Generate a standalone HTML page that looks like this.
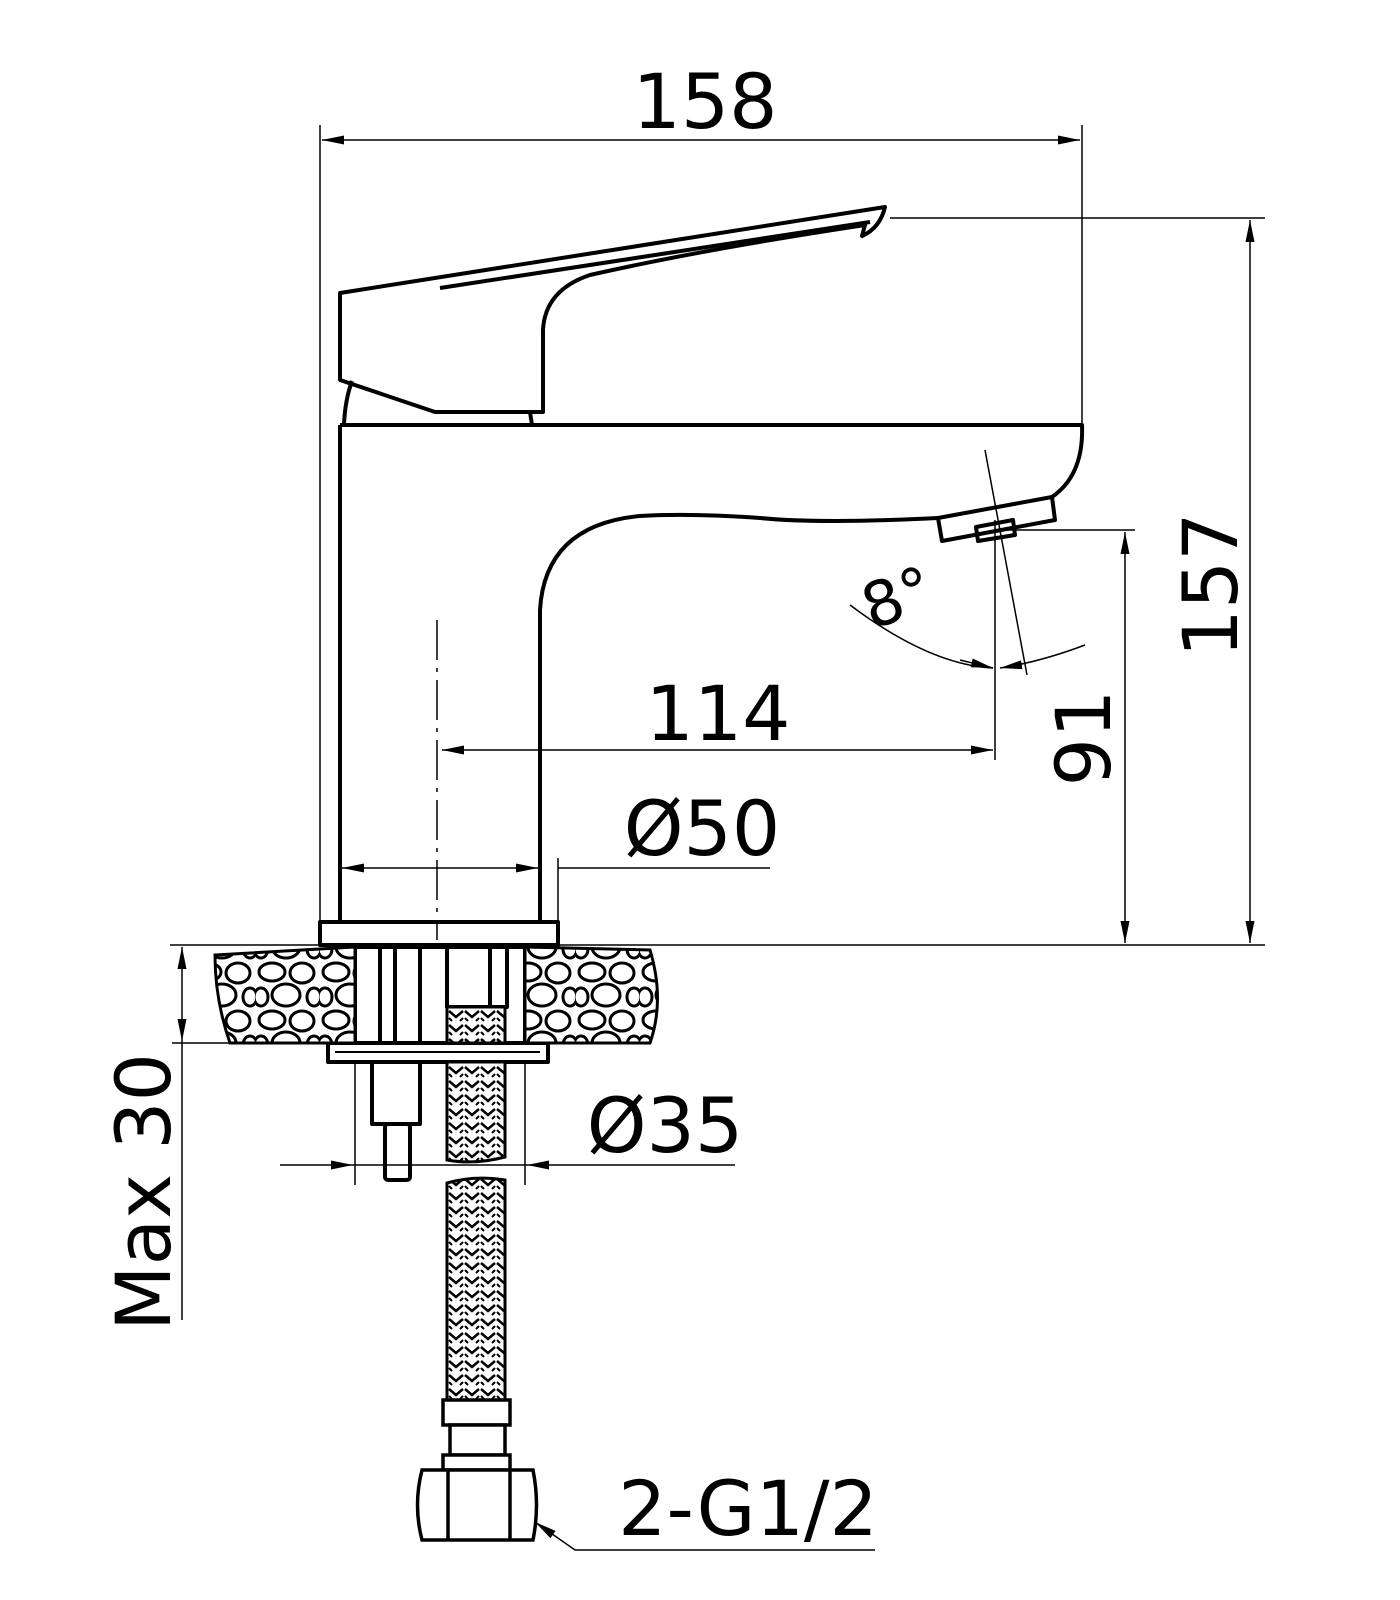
<!DOCTYPE html>
<html><head><meta charset="utf-8"><style>html,body{margin:0;padding:0;background:#fff}svg{display:block}</style></head><body>
<svg width="1400" height="1600" viewBox="0 0 1400 1600" xmlns="http://www.w3.org/2000/svg">
<defs>
<marker id="a" viewBox="0 0 22 10" refX="22" refY="5" markerWidth="22" markerHeight="10" markerUnits="userSpaceOnUse" orient="auto-start-reverse"><path d="M0,0.5 L22,5 L0,9.5 z" fill="#000"/></marker>
<pattern id="braid" width="16" height="14" patternUnits="userSpaceOnUse"><rect width="16" height="14" fill="#fff"/><path d="M1,3 L8,9 L15,3" stroke="#000" stroke-width="2.5" fill="none"/><path d="M1,10 L4,13 M15,10 L12,13" stroke="#000" stroke-width="2" fill="none"/></pattern>
<pattern id="stone" width="64" height="48" patternUnits="userSpaceOnUse"><rect width="64" height="48" fill="#fff"/><g fill="none" stroke="#000" stroke-width="3"><ellipse cx="16" cy="12" rx="13" ry="9"/><ellipse cx="46" cy="13" rx="12" ry="10"/><ellipse cx="30" cy="35" rx="14" ry="11"/><ellipse cx="5" cy="37" rx="7" ry="9"/><ellipse cx="58" cy="37" rx="7" ry="9"/></g></pattern>
</defs>
<g fill="none" stroke="#000" stroke-width="1.5">
<line x1="320" y1="125" x2="320" y2="940"/>
<line x1="1082" y1="125" x2="1082" y2="425"/>
<line x1="322" y1="140" x2="1080" y2="140" marker-start="url(#a)" marker-end="url(#a)"/>
<line x1="890" y1="218" x2="1265" y2="218"/>
<line x1="1250" y1="220" x2="1250" y2="943" marker-start="url(#a)" marker-end="url(#a)"/>
<line x1="1000" y1="530" x2="1135" y2="530"/>
<line x1="1125" y1="532" x2="1125" y2="943" marker-start="url(#a)" marker-end="url(#a)"/>
<line x1="995" y1="520" x2="995" y2="760"/>
<line x1="442" y1="750" x2="993" y2="750" marker-start="url(#a)" marker-end="url(#a)"/>
<line x1="985" y1="450" x2="1027" y2="675"/>
<path d="M850,605 Q930,665 993,668"/>
<path d="M1000,668 Q1040,662 1085,645" marker-start="url(#a)"/>
<path d="M960,660 L993,668" marker-end="url(#a)"/>
<line x1="558" y1="858" x2="558" y2="922"/>
<line x1="342" y1="868" x2="538" y2="868" marker-start="url(#a)" marker-end="url(#a)"/>
<line x1="558" y1="868" x2="770" y2="868"/>
<line x1="437" y1="620" x2="437" y2="940" stroke-dasharray="40,8,4,8"/>
<line x1="170" y1="945" x2="1265" y2="945"/>
<line x1="172" y1="1043" x2="355" y2="1043"/>
<line x1="182" y1="947" x2="182" y2="1041" marker-start="url(#a)" marker-end="url(#a)"/>
<line x1="182" y1="1041" x2="182" y2="1320"/>
<line x1="355" y1="1043" x2="355" y2="1185"/>
<line x1="525" y1="1043" x2="525" y2="1185"/>
<line x1="280" y1="1165" x2="353" y2="1165" marker-end="url(#a)"/>
<line x1="735" y1="1165" x2="527" y2="1165" marker-end="url(#a)"/>
<line x1="353" y1="1165" x2="527" y2="1165"/>
<path d="M875,1550 L575,1550 L535,1522" marker-end="url(#a)"/>
</g>
<g fill="none" stroke="#000" stroke-width="4" stroke-linejoin="round">
<path d="M340,293 L885,207 Q880,228 862,236 L865,225 Q700,250 590,275 Q545,290 543,330 L543,412 L435,412 L340,380 Z"/>
<path d="M440,288 L870,222"/>
<path d="M352,381 Q345,400 344,425"/>
<path d="M530,412 L532,425"/>
<path d="M340,425 L1082,425 Q1084,475 1052,497"/>
<path d="M340,425 L340,922"/>
<path d="M540,922 L540,610 Q545,525 640,516 Q690,513 760,518 Q820,524 938,518"/>
<path d="M938,518 L1052,497 L1055,520 L942,541 Z"/>
<path d="M976,527 L1013,520 L1015,535 L978,541 Z"/>
<rect x="320" y="922" width="238" height="23"/>
<rect x="355" y="947" width="170" height="96" fill="#fff"/>
<line x1="380" y1="947" x2="380" y2="1043"/><line x1="395" y1="947" x2="395" y2="1043"/><line x1="420" y1="947" x2="420" y2="1043"/>
<rect x="447" y="947" width="60" height="60"/>
<line x1="490" y1="947" x2="490" y2="1007"/>
<rect x="328" y="1043" width="220" height="19" fill="#fff"/>
<line x1="335" y1="1052" x2="540" y2="1052" stroke-width="2"/>
<rect x="372" y="1062" width="48" height="62"/>
<rect x="385" y="1124" width="25" height="56" rx="3"/>
</g>
<path d="M215,955 L355,947 L355,1043 L230,1043 Q215,1000 215,955 Z" fill="url(#stone)" stroke="#000" stroke-width="3"/>
<path d="M525,947 L650,950 Q665,1000 650,1043 L525,1043 Z" fill="url(#stone)" stroke="#000" stroke-width="3"/>
<rect x="447" y="1007" width="58" height="36" fill="url(#braid)" stroke="#000" stroke-width="3"/>
<path d="M447,1062 L505,1062 L505,1157 Q475,1165 447,1160 Z" fill="url(#braid)" stroke="#000" stroke-width="3"/>
<path d="M447,1183 Q475,1175 505,1180 L505,1400 L447,1400 Z" fill="url(#braid)" stroke="#000" stroke-width="3"/>
<g fill="#fff" stroke="#000" stroke-width="3.5">
<rect x="443" y="1400" width="67" height="25"/>
<rect x="450" y="1425" width="55" height="30"/>
<rect x="443" y="1455" width="67" height="15"/>
<path d="M422,1470 L533,1470 Q540,1505 533,1540 L422,1540 Q413,1505 422,1470 Z"/>
<line x1="448" y1="1470" x2="448" y2="1540"/><line x1="510" y1="1470" x2="510" y2="1540"/>
</g>
<g font-family="'DejaVu Sans','Liberation Sans',sans-serif" font-size="76" fill="#000" text-anchor="middle">
<text x="705" y="128">158</text>
<text x="718" y="740">114</text>
<text x="702" y="855">Ø50</text>
<text x="665" y="1152">Ø35</text>
<text x="748" y="1535">2-G1/2</text>
<text x="0" y="0" transform="translate(1237,585) rotate(-90)">157</text>
<text x="0" y="0" transform="translate(1110,738) rotate(-90)">91</text>
<text x="0" y="0" transform="translate(170,1192) rotate(-90)">Max 30</text>
<text x="0" y="0" font-size="62" transform="translate(905,618) rotate(-20)">8°</text>
</g>
</svg>
</body></html>
